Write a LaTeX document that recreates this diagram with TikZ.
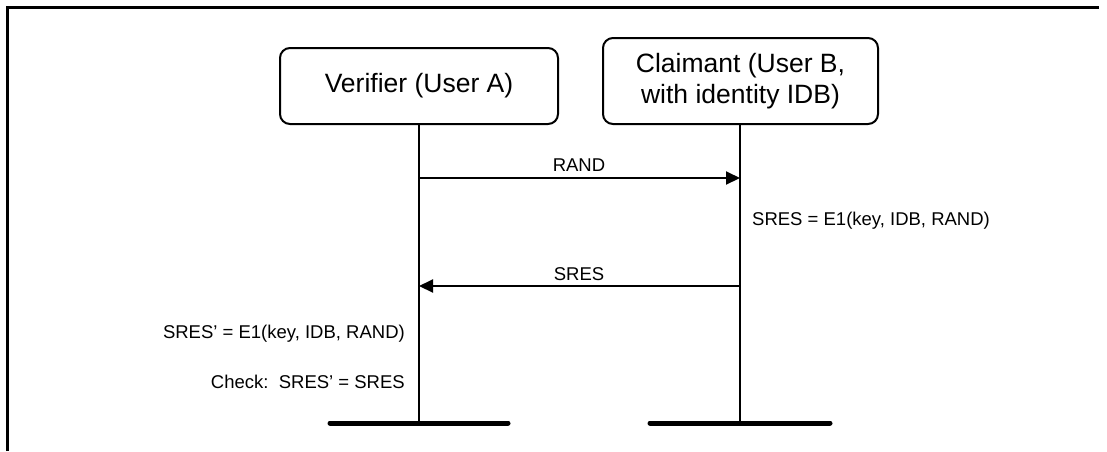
\documentclass[tikz,border=0pt]{standalone}
\usepackage{fontspec}
\setmainfont{Liberation Sans}
\usetikzlibrary{arrows.meta}
\begin{document}
\begin{tikzpicture}[x=1pt,y=-1pt,
 actor/.style={draw, line width=2pt, rounded corners=10pt, align=center, font=\fontsize{26.5}{31}\selectfont, inner sep=0pt},
 life/.style={line width=2pt},
 msg/.style={line width=2pt,-{Triangle[length=14pt,width=13pt]}},
 lbl/.style={font=\fontsize{18.5}{22}\selectfont, inner sep=0pt},
 bar/.style={line width=5pt, line cap=round},
 frame/.style={line width=3pt}]
\useasboundingbox (0,0) rectangle (1107,451);
% frame
\coordinate (f1) at (7.5,451);
\coordinate (f2) at (7.5,7.5);
\coordinate (f3) at (1099,7.5);
\draw[frame] (f1) -- (f2) -- (f3);
% actors
\node[actor, minimum width=278pt, minimum height=76pt] (va) at (419,86) {Verifier (User A)};
\node[actor, minimum width=275pt, minimum height=86pt] (cb) at (740.5,81) {Claimant (User B,\\with identity IDB)};
% bars
\coordinate (ab) at (419,423);
\coordinate (bb) at (740,423);
\coordinate (abl) at (330,423);
\coordinate (abr) at (508,423);
\coordinate (bbl) at (650,423);
\coordinate (bbr) at (830,423);
\draw[life] (va.south) -- (ab);
\draw[life] (cb.south -| bb) -- (bb);
\draw[bar] (abl) -- (abr);
\draw[bar] (bbl) -- (bbr);
% messages
\coordinate (a1) at (419,178);
\coordinate (b1) at (740,178);
\coordinate (a2) at (419,286);
\coordinate (b2) at (740,286);
\draw[msg] (a1) -- (b1);
\draw[msg] (b2) -- (a2);
\node[lbl, anchor=base] (lrand) at (579,171) {RAND};
\node[lbl, anchor=base] (lsres) at (579,280) {SRES};
\node[lbl, anchor=base west] (lcalc) at (752,225) {SRES = E1(key, IDB, RAND)};
\node[lbl, anchor=base east] (lver) at (405,338) {SRES’ = E1(key, IDB, RAND)};
\node[lbl, anchor=base east] (lchk) at (405,388) {Check:\ \ SRES’ = SRES};
\end{tikzpicture}
\end{document}
